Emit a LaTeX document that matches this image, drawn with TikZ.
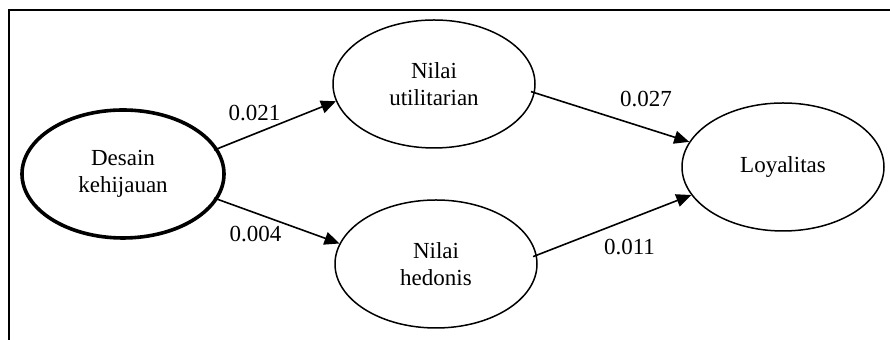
\documentclass[tikz,border=0pt]{standalone}
\usepackage{fontspec}
\setmainfont{Liberation Serif}
\usetikzlibrary{shapes.geometric,arrows.meta}
\tikzset{
    latent/.style={ellipse, draw, line width=0.75pt, minimum width=101pt, minimum height=64pt,
        inner sep=0pt, align=center, font=\fontsize{11.5}{13.5}\selectfont},
    path/.style={line width=0.8pt, -{Triangle[length=7.5pt,width=6.5pt]}, shorten <=-2pt},
    coef/.style={font=\fontsize{11.5}{13.5}\selectfont, inner sep=3.3pt}
}
\begin{document}
\begin{tikzpicture}[x=0.5pt, y=-0.5pt]
        \useasboundingbox (0,0) rectangle (890,340);
        % frame (top and left side only)
        \draw[line width=1pt] (9,340) -- (9,10) -- (890,10);
        % constructs
        \node[latent, line width=1.8pt] (desain) at (123,174) {Desain\\kehijauan};
        \node[latent] (util) at (434,84) {Nilai\\utilitarian};
        \node[latent] (hedon) at (436,264) {Nilai\\hedonis};
        \node[latent] (loyal) at (783,167) {Loyalitas};
        % paths
        \draw[path] (desain.15) -- node[coef, pos=0.31, above=2.8pt] (c1) {0.021} (util.190);
        \draw[path] (desain.-15) -- node[coef, pos=0.31, below=2.8pt] (c2) {0.004} (hedon.168);
        \draw[path] (util.-5) -- node[coef, pos=0.72, above=6.8pt] (c3) {0.027} (loyal.165);
        \draw[path] (hedon.5) -- node[coef, pos=0.6, below=6.3pt] (c4) {0.011} (loyal.197);
    \end{tikzpicture}
\end{document}
